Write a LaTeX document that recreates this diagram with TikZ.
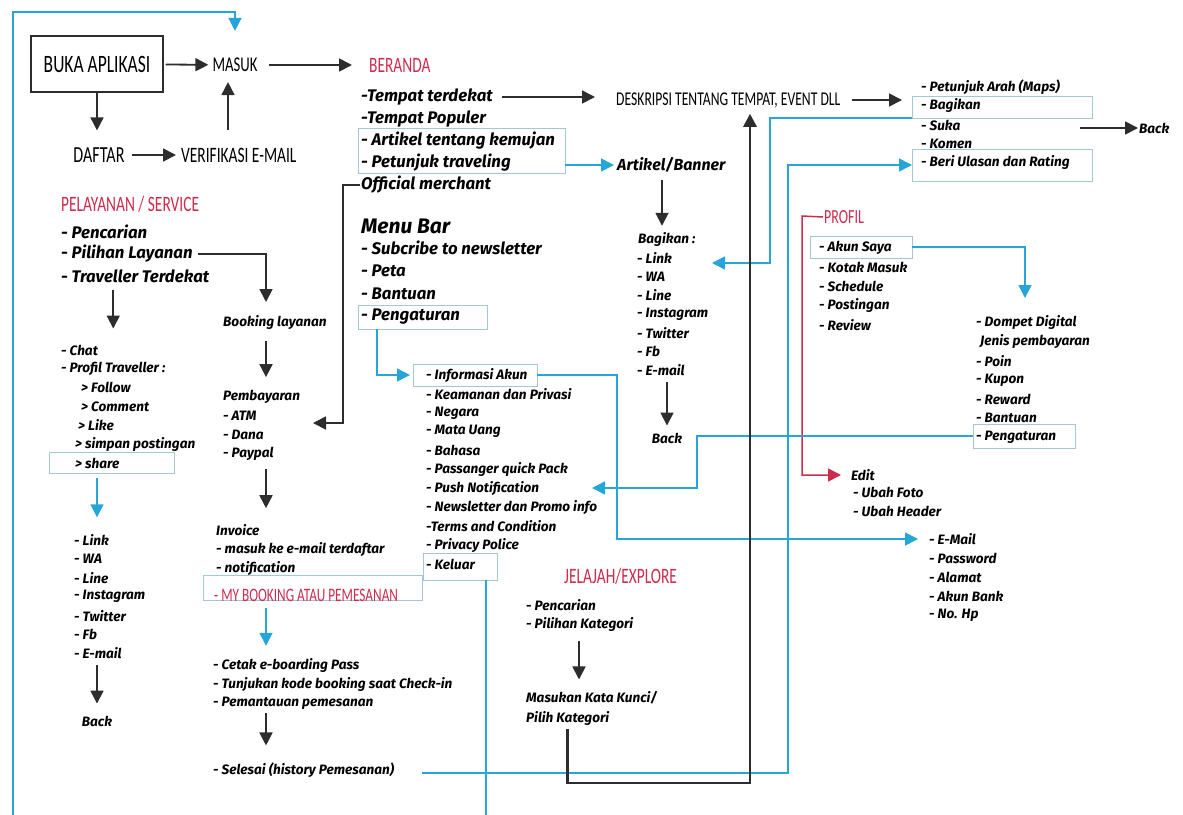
\documentclass[tikz,border=0pt]{standalone}
\usepackage{fontspec}
\setmainfont{Fira Sans}
\newfontfamily\handfont[FakeStretch=0.7]{Carlito}
\usetikzlibrary{arrows.meta}

\definecolor{flowblue}{RGB}{38,166,214}
\definecolor{flowred}{RGB}{204,44,78}
\definecolor{flowdark}{RGB}{45,45,45}
\definecolor{boxline}{RGB}{165,198,212}

\tikzset{
  hand/.style={inner sep=1pt, font=\handfont\fontsize{22}{22}\selectfont},
  big/.style={anchor=west, inner sep=1pt, font=\bfseries\itshape\fontsize{16.8}{18}\selectfont},
  small/.style={anchor=west, inner sep=1pt, font=\bfseries\itshape\fontsize{13.6}{15}\selectfont},
  hlbox/.style={draw=boxline, line width=0.7pt, anchor=north west, inner sep=0pt, outer sep=0pt},
  blk/.style={->, draw=flowdark, line width=1.8pt},
  thk/.style={->, draw=flowdark, line width=2.8pt},
  blu/.style={->, draw=flowblue, line width=1.5pt},
  rd/.style={->, draw=flowred, line width=1.5pt},
}

\begin{document}
\begin{tikzpicture}[
    x=1pt, y=-1pt,
    >={Triangle[length=13pt,width=13pt]},
  ]
  \useasboundingbox (0,0) rectangle (1183,814);

  % Boxes round highlighted items
  \node[hlbox, minimum width=207pt, minimum height=45pt] (artbox)    at (358,128) {};
  \node[hlbox, minimum width=129pt, minimum height=24pt] (menubox)   at (358,305) {};
  \node[hlbox, minimum width=125pt, minimum height=21pt] (sharebox)  at (49,452)  {};
  \node[hlbox, minimum width=219pt, minimum height=25pt] (mybookbox) at (203,575) {};
  \node[hlbox, minimum width=124pt, minimum height=22pt] (infobox)   at (413,364) {};
  \node[hlbox, minimum width=74pt,  minimum height=27pt] (kelbox)    at (423,553) {};
  \node[hlbox, minimum width=180pt, minimum height=22pt] (bagbox)    at (912,96)  {};
  \node[hlbox, minimum width=180pt, minimum height=32pt] (ulasbox)   at (912,149) {};
  \node[hlbox, minimum width=102pt, minimum height=22pt] (akunbox)   at (810,236) {};
  \node[hlbox, minimum width=102pt, minimum height=24pt] (pengbox)   at (973,424) {};

  % Start
  \node[hand, draw=flowdark, line width=1.2pt, minimum width=132pt, minimum height=56pt,
        font=\handfont\fontsize{25}{25}\selectfont] (buka) at (97,64) {BUKA APLIKASI};
  \node[hand, font=\handfont\fontsize{21}{21}\selectfont] (masuk) at (235,65) {MASUK};
  \node[hand, anchor=west, text=flowred]  (beranda) at (368,65)  {BERANDA};
  \node[hand, font=\handfont\fontsize{23}{23}\selectfont] (daftar) at (99,155) {DAFTAR};
  \node[hand, anchor=west]                (verif)   at (180,155) {VERIFIKASI E-MAIL};

  % Beranda
  \foreach \txt [count=\i] in {-Tempat terdekat, -Tempat Populer, - Artikel tentang kemujan,
                               - Petunjuk traveling, Official merchant}
    \node[big] (ber-\i) at (360, {97+22*(\i-1)}) {\txt};

  % Pelayanan / service
  \node[hand, anchor=west, text=flowred] (pelayanan) at (60,204) {PELAYANAN / SERVICE};
  \foreach \txt [count=\i] in {- Pencarian, - Pilihan Layanan, - Traveller Terdekat}
    \node[big] (pel-\i) at (60, {232+22*(\i-1)}) {\txt};

  % Traveller terdekat
  \foreach \x/\txt [count=\i] in {60/- Chat, 60/- Profil Traveller :, 80/> Follow, 80/> Comment,
                                  77/> Like, 74/> simpan postingan, 74/> share}
    \node[small] (tv-\i) at (\x, {350+18.9*(\i-1)}) {\txt};
  \foreach \txt [count=\i] in {Link, WA, Line, Instagram, Twitter, Fb, E-mail}
    \node[small] (lk-\i) at (73, {540+18.9*(\i-1)}) {- \txt};
  \node[small, anchor=center] (back3) at (97,721) {Back};

  % Booking
  \node[small] (booking) at (222,323) {Booking layanan};
  \foreach \txt [count=\i from 0] in {Pembayaran, - ATM, - Dana, - Paypal}
    \node[small] (pay-\i) at (222, {397+18.9*\i}) {\txt};
  \foreach \txt [count=\i from 0] in {Invoice, - masuk ke e-mail terdaftar, - notification}
    \node[small] (inv-\i) at (215, {530+19*\i}) {\txt};
  \node[hand, anchor=west, text=flowred, font=\handfont\fontsize{19}{19}\selectfont]
    (mybook) at (213,595) {- MY BOOKING ATAU PEMESANAN};
  \foreach \txt [count=\i] in {- Cetak e-boarding Pass, - Tunjukan kode booking saat Check-in,
                               - Pemantauan pemesanan}
    \node[small] (cetak-\i) at (212, {665+19*(\i-1)}) {\txt};
  \node[small] (selesai) at (212,770) {- Selesai (history Pemesanan)};

  % Menu bar
  \node[big, font=\bfseries\itshape\fontsize{21}{21}\selectfont] (menubar) at (360,226) {Menu Bar};
  \foreach \txt [count=\i] in {- Subcribe to newsletter, - Peta, - Bantuan, - Pengaturan}
    \node[big] (menu-\i) at (360, {248+22.7*(\i-1)}) {\txt};
  \foreach \txt [count=\i] in {- Informasi Akun, - Keamanan dan Privasi, - Negara, - Mata Uang,
                               - Bahasa, - Passanger quick Pack, - Push Notification,
                               - Newsletter dan Promo info, -Terms and Condition,
                               - Privacy Police, - Keluar}
    \node[small] (set-\i) at (425, {375+18.9*(\i-1)}) {\txt};

  % Deskripsi
  \node[hand, anchor=west, font=\handfont\fontsize{19.5}{19.5}\selectfont]
    (desk) at (615,100) {DESKRIPSI TENTANG TEMPAT, EVENT DLL};
  \foreach \txt [count=\i] in {- Petunjuk Arah (Maps), - Bagikan, - Suka, - Komen,
                               - Beri Ulasan dan Rating}
    \node[small] (r-\i) at (920, {87+19*(\i-1)}) {\txt};
  \node[small] (back1) at (1138,128) {Back};

  % Artikel / banner
  \node[big, font=\bfseries\itshape\fontsize{16}{18}\selectfont] (artikel) at (616,165) {Artikel/Banner};
  \node[small] (bagi) at (637,240) {Bagikan :};
  \foreach \txt [count=\i] in {Link, WA, Line, Instagram, Twitter, Fb, E-mail}
    \node[small] (bg-\i) at (636, {258+18.7*(\i-1)}) {- \txt};
  \node[small, anchor=center] (back2) at (667,438) {Back};

  % Profil
  \node[hand, anchor=west, text=flowred, font=\handfont\fontsize{20}{20}\selectfont]
    (profil) at (823,217) {PROFIL};
  \foreach \txt [count=\i] in {- Akun Saya, - Kotak Masuk, - Schedule, - Postingan, - Review}
    \node[small] (prof-\i) at (818, {248+19.2*(\i-1)}) {\txt};
  \foreach \x/\txt [count=\i] in {975/- Dompet Digital, 979/Jenis pembayaran, 975/- Poin,
                                  975/- Kupon, 975/- Reward, 975/- Bantuan, 975/- Pengaturan}
    \node[small] (dom-\i) at (\x, {323+19*(\i-1)}) {\txt};
  \node[small] (edit) at (850,475) {Edit};
  \foreach \txt [count=\i] in {- Ubah Foto, - Ubah Header}
    \node[small] (ubah-\i) at (852, {492+19*(\i-1)}) {\txt};
  \foreach \txt [count=\i] in {- E-Mail, - Password, - Alamat, - Akun Bank, - No. Hp}
    \node[small] (em-\i) at (928, {539+19*(\i-1)}) {\txt};

  % Jelajah / explore
  \node[hand, anchor=west, text=flowred] (jelajah) at (563,576) {JELAJAH/EXPLORE};
  \node[small] (exp-1) at (525,605) {- Pencarian};
  \node[small] (exp-2) at (525,624) {- Pilihan Kategori};
  \node[small] (kunci) at (525,698) {Masukan Kata Kunci/};
  \node[small] (pilih) at (525,718) {Pilih Kategori};

  % Columns and turning points
  \coordinate (colA) at (97,0);
  \coordinate (colB) at (266,0);
  \coordinate (colM) at (662,0);
  \coordinate (colE) at (579,0);
  \coordinate (verifup)   at ([xshift=48pt]verif.north west);
  \coordinate (loopbl)    at (486,818);
  \coordinate (looptl)    at (13,12);
  \coordinate (sukaout)   at (1080,128);
  \coordinate (bagturn)   at (770,118);
  \coordinate (bagin)     at (712,263);
  \coordinate (selout)    at (422,773);
  \coordinate (selturn)   at (788,773);
  \coordinate (explturn)  at (750,783);
  \coordinate (offturn)   at (343,423);
  \coordinate (payin)     at (313,423);
  \coordinate (bookin)    at (266,302);
  \coordinate (menuturn)  at (377,375);
  \coordinate (infoturn)  at (617,539);
  \coordinate (pengturn)  at (697,436);
  \coordinate (pushin)    at (592,488);
  \coordinate (dompin)    at (1025,298);
  \coordinate (profturn)  at (802,216);

  % Login
  \draw[blk, shorten <=2pt, shorten >=3pt] (buka) -- (masuk);
  \draw[blk, shorten <=10pt, shorten >=16pt] (masuk) -- (beranda);
  \draw[blk, shorten >=16pt] (buka.south) -- (buka.south |- daftar.north);
  \draw[blk, shorten <=6pt, shorten >=4pt] (daftar) -- (verif);
  \draw[blk, shorten <=17pt, shorten >=9pt] (verifup) -- (verifup |- masuk.south);

  % Keluar back to masuk
  \draw[blu, shorten >=26pt] (kelbox.south -| loopbl) -- (loopbl) -| (looptl) -| (masuk.north);

  % Beranda
  \draw[blk, shorten <=8pt, shorten >=20pt] (ber-1) -- (ber-1 -| desk.west);
  \draw[blu, shorten >=2pt] (artbox.east |- artikel) -- (artikel.west);
  \draw[blk, shorten <=6pt, shorten >=6pt] (artikel.south -| colM) -- (bagi.north -| colM);
  \draw[blk, shorten <=5pt, shorten >=6pt] (bg-7.south -| back2) -- (back2.north);
  \draw[blk, shorten <=10pt, shorten >=18pt] (desk) -- (desk -| r-1.west);
  \draw[blk] (sukaout) -- (back1);
  \draw[blu] (bagbox.south west) -- (bagturn) |- (bagin);
  \draw[blk] (ber-5.west) -| (offturn) -- (payin);

  % Pelayanan
  \draw[blk, shorten <=4pt] (pel-2.east) -| (bookin);
  \draw[blk, shorten <=6pt, shorten >=15pt] (pel-3.south -| tv-2) -- (tv-1.north -| tv-2);
  \draw[blk, shorten <=10pt, shorten >=12pt] (booking.south -| colB) -- (pay-0.north -| colB);
  \draw[blk, shorten <=7pt, shorten >=15pt] (pay-3.south -| colB) -- (inv-0.north -| colB);
  \draw[blu, shorten <=8pt, shorten >=11pt] (mybookbox.south -| colB) -- (cetak-1.north -| colB);
  \draw[blk, shorten <=3pt, shorten >=16pt] (cetak-3.south -| colB) -- (selesai.north -| colB);
  \draw[blu, shorten <=5pt, shorten >=16pt] (sharebox.south -| colA) -- (lk-1.north -| colA);
  \draw[blk, shorten <=5pt, shorten >=11pt] (lk-7.south -| colA) -- (back3.north);
  \draw[blu] (selout) -- (selturn) |- (ulasbox.west);

  % Menu bar
  \draw[blu, shorten >=3pt] (menubox.south -| menuturn) -- (menuturn) -- (infobox.west);
  \draw[blu, shorten >=10pt] (infobox.east) -| (infoturn) -- (em-1.west);

  % Profil
  \draw[rd, shorten >=9pt] (profil.west) -- (profturn) |- (edit.west);
  \draw[blu] (akunbox.east) -| (dompin);
  \draw[blu] (pengbox.west) -- (pengturn) |- (pushin);

  % Jelajah
  \draw[blk, shorten <=9pt, shorten >=11pt] (exp-2.south -| colE) -- (kunci.north -| colE);
  \draw[thk, shorten <=3pt, shorten >=5pt] (pilih.south) |- (explturn) -- (explturn |- desk.south);

\end{tikzpicture}
\end{document}
